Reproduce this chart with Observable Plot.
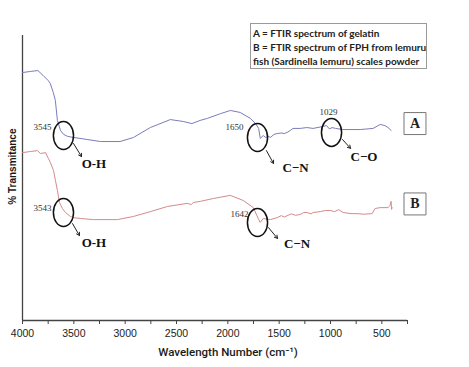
<!DOCTYPE html>
<html>
<head>
<meta charset="utf-8">
<script src="https://cdn.jsdelivr.net/npm/d3@7"></script>
<script src="https://cdn.jsdelivr.net/npm/@observablehq/plot@0.6"></script>
<style>
  html, body { margin: 0; padding: 0; background: #fff; }
  #wrap { position: relative; width: 469px; height: 367px; overflow: hidden; }
  #legend {
    position: absolute; left: 250px; top: 23px; width: 177px; height: 46px;
    box-sizing: border-box; border: 1px solid #9a9a9a; background: #fff;
    font-family: Lato, "Open Sans", sans-serif; font-weight: 700; font-size: 10px;
    line-height: 14px; padding: 2px 0 0 2px; color: #222; white-space: nowrap;
  }
</style>
</head>
<body>
<div id="wrap"></div>
<script>
// ---- data ----
const wavenumberA = [4000,3920,3850,3800,3750,3730,3700,3680,3660,3630,3600,3560,3500,3440,3370,3240,3050,2920,2755,2560,2430,2350,2270,2200,2070,1975,1880,1780,1730,1700,1684,1655,1630,1600,1587,1550,1519,1480,1450,1422,1390,1365,1295,1230,1170,1071,1040,1010,985,950,880,800,710,585,515,470,440,410];
const transA =      [87.0,87.4,87.7,86.0,84.2,83.2,80.0,77.2,70.2,66.7,65.3,64.6,64.2,63.9,63.5,62.8,62.8,64.2,67.7,70.5,69.8,69.1,70.2,70.9,72.6,73.7,73.0,70.9,69.1,67.4,63.9,64.9,64.2,64.6,64.2,65.3,65.6,65.8,65.6,66.0,66.7,67.4,67.4,67.7,67.4,68.1,68.4,67.2,67.7,67.4,67.0,67.0,67.0,67.4,68.8,68.4,67.7,66.7];

const wavenumberB = [4000,3922,3855,3825,3776,3747,3728,3698,3679,3660,3640,3611,3582,3533,3504,3436,3309,3076,2920,2755,2589,2395,2356,2336,2268,2142,1976,1850,1752,1704,1684,1655,1587,1519,1480,1450,1422,1380,1340,1296,1260,1227,1190,1169,1100,1050,1003,960,920,877,800,741,680,595,566,517,439,420,410,405,400];
const transB =      [58.9,59.3,59.6,58.6,58.9,56.8,55.4,52.6,49.1,45.6,41.4,39.3,37.9,36.5,36.1,35.8,35.4,35.4,36.5,38.2,40.0,41.1,40.7,41.4,41.8,42.8,43.9,42.1,39.6,35.8,34.4,35.8,35.4,36.1,36.8,36.3,36.8,37.4,36.9,37.2,37.9,37.9,37.4,37.9,38.2,38.6,38.6,38.2,38.9,37.9,37.5,37.5,37.3,37.5,39.3,39.6,39.6,40.4,41.8,39.0,39.6];

const majorTicks = [4000,3500,3000,2500,2000,1500,1000,500];
const minorTicks = [3750,3250,2750,2250,1750,1250,750,250];

// peak labels
const peakLabels = ["3545","1650","1029","3543","1642"];
const peakLabelX = [3718,1847,1020,3718,1799];
const peakLabelY = [67.7,67.7,73.0,39.3,37.2];
const peakLabelAnchor = ["end","end","middle","end","end"];

// circled peaks
const circleX = [3601,1711,990,3601,1711];
const circleY = [64.9,64.2,66.0,37.9,34.4];

// arrows
const arrowX1 = [3503,1624,883,3513,1604];
const arrowY1 = [62.1,59.6,63.5,34.0,32.6];
const arrowX2 = [3425,1555,805,3445,1516];
const arrowY2 = [57.5,55.1,60.4,29.8,28.8];

// bond labels
const bondLabels = ["O-H","C\u2212N","C\u2212O","O-H","C\u2212N"];
const bondX = [3304,1341,674,3304,1326];
const bondY = [55.1,53.7,57.5,27.4,27.0];

// series tags
const seriesTags = ["A","B"];
const seriesTagX = [177,177];
const seriesTagY = [69.1,40.9];

// axis titles
const xTitle = "Wavelength Number (cm\u207B\u00B9)";
const yTitle = "% Transmitance";

const legendLines = [
  "A = FTIR spectrum of gelatin",
  "B = FTIR spectrum of FPH from lemuru",
  "fish (Sardinella lemuru) scales powder"
];

// ---- build tables ----
const lineA = wavenumberA.map((w, i) => ({w, t: transA[i]}));
const lineB = wavenumberB.map((w, i) => ({w, t: transB[i]}));
const peaks = peakLabels.map((s, i) => ({s, x: peakLabelX[i], y: peakLabelY[i], a: peakLabelAnchor[i]}));
const circles = circleX.map((x, i) => ({x, y: circleY[i]}));
const arrows = arrowX1.map((x1, i) => ({x1, y1: arrowY1[i], x2: arrowX2[i], y2: arrowY2[i]}));
const bonds = bondLabels.map((s, i) => ({s, x: bondX[i], y: bondY[i]}));
const tags = seriesTags.map((s, i) => ({s, x: seriesTagX[i], y: seriesTagY[i]}));

const ellipse = {
  draw(ctx, size) {
    const r = Math.sqrt(size / Math.PI), rx = r * 0.72, ry = r, k = 0.5523;
    ctx.moveTo(rx, 0);
    ctx.bezierCurveTo(rx, ry * k, rx * k, ry, 0, ry);
    ctx.bezierCurveTo(-rx * k, ry, -rx, ry * k, -rx, 0);
    ctx.bezierCurveTo(-rx, -ry * k, -rx * k, -ry, 0, -ry);
    ctx.bezierCurveTo(rx * k, -ry, rx, -ry * k, rx, 0);
    ctx.closePath();
  }
};

const chart = Plot.plot({
  width: 469, height: 367,
  marginLeft: 22, marginRight: 62, marginTop: 35, marginBottom: 47,
  x: {domain: [4000, 250]},
  y: {domain: [0, 100], axis: null},
  style: {fontFamily: "'Liberation Sans', Arial, sans-serif", background: "white", color: "#222", overflow: "visible"},
  marks: [
    Plot.ruleY([0], {stroke: "#444", strokeWidth: 1.3}),
    Plot.ruleX([4000], {stroke: "#444", strokeWidth: 1.3}),
    Plot.axisX({ticks: majorTicks, tickSize: 4, tickPadding: 5, fontSize: 10.5, tickFormat: d => String(d), label: null, stroke: "#444"}),
    Plot.axisX({ticks: minorTicks, tickSize: 4, tickFormat: () => "", label: null, stroke: "#444"}),
    Plot.text([xTitle], {frameAnchor: "bottom", dx: 13, dy: 35, fontSize: 11.5, fontFamily: "Roboto, sans-serif", fontWeight: 500, fill: "#1a1a1a"}),
    Plot.text([yTitle], {x: () => 4097, y: () => 54, rotate: -90, fontSize: 10, fontWeight: "bold", fill: "#1a1a1a"}),
    Plot.line(lineA, {x: "w", y: "t", stroke: "#7b7cba", strokeWidth: 1}),
    Plot.line(lineB, {x: "w", y: "t", stroke: "#d48a8a", strokeWidth: 1}),
    Plot.dot(circles, {x: "x", y: "y", r: 14, symbol: ellipse, stroke: "#111", strokeWidth: 1.5, fill: "none"}),
    Plot.arrow(arrows, {x1: "x1", y1: "y1", x2: "x2", y2: "y2", stroke: "#222", strokeWidth: 1, headLength: 5}),
    Plot.text(peaks.filter(d => d.a === "end"), {x: "x", y: "y", text: "s", textAnchor: "end", fontFamily: "'Liberation Serif', serif", fontSize: 9, fill: "#333"}),
    Plot.text(peaks.filter(d => d.a === "middle"), {x: "x", y: "y", text: "s", fontFamily: "'Liberation Serif', serif", fontSize: 9, fill: "#333"}),
    Plot.text(bonds, {x: "x", y: "y", text: "s", fontFamily: "'Liberation Serif', serif", fontWeight: "bold", fontSize: 13, fill: "#111"}),
    Plot.dot(tags, {x: "x", y: "y", r: 12.4, symbol: "square", stroke: "#777", strokeWidth: 1, fill: "white"}),
    Plot.text(tags, {x: "x", y: "y", text: "s", fontFamily: "'Liberation Serif', serif", fontWeight: "bold", fontSize: 14, fill: "#222"})
  ]
});

const wrap = document.getElementById("wrap");
wrap.appendChild(chart);
const legend = document.createElement("div");
legend.id = "legend";
legend.innerHTML = legendLines.map(s => `<div>${s}</div>`).join("");
wrap.appendChild(legend);
</script>
</body>
</html>
